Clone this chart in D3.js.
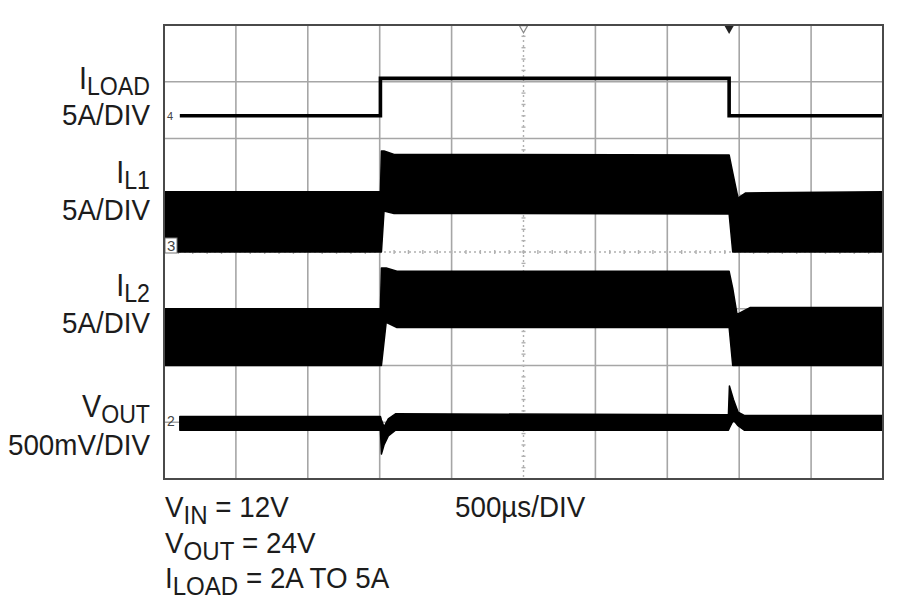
<!DOCTYPE html>
<html>
<head>
<meta charset="utf-8">
<script src="https://cdn.jsdelivr.net/npm/d3@7"></script>
<style>
  body { margin: 0; background: #fff; }
  text { font-family: "Liberation Sans", Arial, sans-serif; fill: #1c1c1c; }
</style>
</head>
<body>
<svg width="900" height="615"></svg>
<script>
// scope time base: 500us/DIV, 10 divisions
var timeDomain = [0, 5000];
var divsX = d3.range(0, 11);
var divsY = d3.range(-4, 5);

// channel scales (units per division) and ground level (in divisions from centre)
var chPerDiv = [5, 5, 5, 500];
var chZeroDiv = [2, 0, -2, -3];

// I_LOAD, amps
var iloadTime = [110, 1505, 1505, 3930, 3930, 5000];
var iloadAmps = [2.0, 2.0, 5.3, 5.3, 2.0, 2.0];

// I_L1 ripple envelope, amps
var il1Time = [0, 1505, 1512, 1530, 1600, 3930, 3955, 3992, 4045, 5000];
var il1Max = [5.3, 5.3, 8.9, 8.9, 8.6, 8.55, 7.0, 4.75, 5.2, 5.3];
var il1Min = [0, 0, 0, 3.6, 3.4, 3.35, 0, 0, 0, 0];

// I_L2 ripple envelope, amps
var il2Time = [0, 1505, 1512, 1545, 1620, 3930, 3955, 3985, 4075, 5000];
var il2Max = [5.0, 5.0, 8.6, 8.6, 8.3, 8.3, 6.8, 4.5, 5.1, 5.1];
var il2Min = [0, 0, 0, 3.8, 3.35, 3.35, 0, 0, 0, 0];

// V_OUT deviation from 24V, mV
var voutTime = [110, 1505, 1512, 1530, 1560, 1610, 3925, 3932, 3960, 3992, 4035, 5000];
var voutMax = [50, 50, 20, -40, 30, 75, 65, 320, 200, 90, 60, 60];
var voutMin = [-70, -70, -280, -200, -120, -70, -70, -50, 20, -30, -70, -70];

// text
var labelMain = ["I", "I", "I", "V"];
var labelSub = ["LOAD", "L1", "L2", "OUT"];
var labelScale = ["5A/DIV", "5A/DIV", "5A/DIV", "500mV/DIV"];
var labelBase = [89, 183, 296, 417];
var labelScaleBase = [125, 220, 333, 455];
var noteMain = ["V", "V", "I"];
var noteSub = ["IN", "OUT", "LOAD"];
var noteRest = [" = 12V", " = 24V", " = 2A TO 5A"];
var timeLabel = "500\u00B5s/DIV";

var svg = d3.select("svg");
var plot = {left: 164, right: 883, top: 25, bottom: 479};
var x = d3.scaleLinear().domain(timeDomain).range([plot.left, plot.right]);
var xDiv = d3.scaleLinear().domain([0, 10]).range([plot.left, plot.right]);
var yDiv = d3.scaleLinear().domain([-4, 4]).range([plot.bottom, plot.top]);
var sx = 0.926;

function chY(i) {
  return function(v) { return yDiv(chZeroDiv[i] + v / chPerDiv[i]); };
}

svg.append("rect").attr("width", 900).attr("height", 615).attr("fill", "#fff");

// graticule
var grid = svg.append("g").attr("stroke", "#a6a6a6").attr("stroke-width", 1.6);
grid.selectAll("line.v").data(divsX.filter(function(d) { return d > 0 && d < 10 && d !== 5; }))
  .enter().append("line")
  .attr("x1", xDiv).attr("x2", xDiv)
  .attr("y1", plot.top).attr("y2", plot.bottom);
grid.selectAll("line.h").data(divsY.filter(function(d) { return d > -4 && d < 4 && d !== 0; }))
  .enter().append("line")
  .attr("y1", yDiv).attr("y2", yDiv)
  .attr("x1", plot.left).attr("x2", plot.right);

// centre lines, dotted with minor ticks
var centre = svg.append("g").attr("stroke", "#b0b0b0");
centre.append("line").attr("x1", xDiv(5)).attr("x2", xDiv(5))
  .attr("y1", plot.top).attr("y2", plot.bottom)
  .attr("stroke-width", 1.4).attr("stroke-dasharray", "2,3");
centre.append("line").attr("y1", yDiv(0)).attr("y2", yDiv(0))
  .attr("x1", plot.left).attr("x2", plot.right)
  .attr("stroke-width", 1.4).attr("stroke-dasharray", "2,3");
centre.selectAll("line.tx").data(d3.range(0.2, 10, 0.2))
  .enter().append("line")
  .attr("x1", xDiv).attr("x2", xDiv)
  .attr("y1", yDiv(0) - 2).attr("y2", yDiv(0) + 2)
  .attr("stroke-width", 1.4);
centre.selectAll("line.ty").data(d3.range(-3.8, 4, 0.2))
  .enter().append("line")
  .attr("y1", yDiv).attr("y2", yDiv)
  .attr("x1", xDiv(5) - 2).attr("x2", xDiv(5) + 2)
  .attr("stroke-width", 1.4);

// traces
svg.append("clipPath").attr("id", "clip").append("rect")
  .attr("x", plot.left).attr("y", plot.top)
  .attr("width", plot.right - plot.left).attr("height", plot.bottom - plot.top);
var traces = svg.append("g").attr("clip-path", "url(#clip)");

function band(times, maxs, mins, ch) {
  var y = chY(ch);
  var area = d3.area()
    .x(function(d, i) { return x(times[i]); })
    .y0(function(d, i) { return y(mins[i]); })
    .y1(function(d, i) { return y(maxs[i]); });
  traces.append("path").datum(times)
    .attr("d", area)
    .attr("fill", "#000").attr("stroke", "#000").attr("stroke-width", 1.5)
    .attr("stroke-linejoin", "round");
}

band(il1Time, il1Max, il1Min, 1);
band(il2Time, il2Max, il2Min, 2);
band(voutTime, voutMax, voutMin, 3);

var yLoad = chY(0);
var loadLine = d3.line()
  .x(function(d, i) { return x(iloadTime[i]); })
  .y(function(d, i) { return yLoad(iloadAmps[i]); });
traces.append("path").datum(iloadTime)
  .attr("d", loadLine)
  .attr("fill", "none").attr("stroke", "#000").attr("stroke-width", 3.6);

// channel markers
svg.append("text").attr("x", plot.left + 3).attr("y", yLoad(iloadAmps[0]) + 4)
  .attr("font-size", 11).style("fill", "#444").text("4");
svg.append("rect").attr("x", plot.left + 1).attr("y", chY(1)(0) - 14)
  .attr("width", 12).attr("height", 15)
  .attr("fill", "#fff").attr("stroke", "#777").attr("stroke-width", 1);
svg.append("text").attr("x", plot.left + 3).attr("y", chY(1)(0) - 1)
  .attr("font-size", 15).style("fill", "#444").text("3");
svg.append("text").attr("x", plot.left + 3).attr("y", chY(3)(0) + 4)
  .attr("font-size", 14).style("fill", "#444").text("2");

// trigger markers on top edge
svg.append("path")
  .attr("d", d3.symbol().type(d3.symbolTriangle).size(30))
  .attr("transform", "translate(" + xDiv(5) + "," + (plot.top + 3) + ") rotate(180)")
  .attr("fill", "#fff").attr("stroke", "#888").attr("stroke-width", 1.2);
svg.append("path")
  .attr("d", d3.symbol().type(d3.symbolTriangle).size(45))
  .attr("transform", "translate(" + x(iloadTime[3]) + "," + (plot.top + 3) + ") rotate(180)")
  .attr("fill", "#222");

// frame
svg.append("rect")
  .attr("x", plot.left).attr("y", plot.top)
  .attr("width", plot.right - plot.left).attr("height", plot.bottom - plot.top)
  .attr("fill", "none").attr("stroke", "#4a4a4a").attr("stroke-width", 2);

// left channel labels
labelMain.forEach(function(m, i) {
  var g = svg.append("g").attr("transform", "translate(150," + labelBase[i] + ") scale(" + sx + ",1)");
  var t = g.append("text").attr("text-anchor", "end").attr("font-size", 31);
  t.append("tspan").text(m);
  t.append("tspan").attr("font-size", 25).attr("dy", 6).text(labelSub[i]);
  svg.append("g").attr("transform", "translate(150," + labelScaleBase[i] + ") scale(" + sx + ",1)")
    .append("text").attr("text-anchor", "end").attr("font-size", 30).text(labelScale[i]);
});

// conditions under the plot
var noteBase = [517, 553, 588];
noteMain.forEach(function(m, i) {
  var t = svg.append("g").attr("transform", "translate(165," + noteBase[i] + ") scale(" + sx + ",1)")
    .append("text").attr("font-size", 30);
  t.append("tspan").text(m);
  t.append("tspan").attr("font-size", 26).attr("dy", 7).text(noteSub[i]);
  t.append("tspan").attr("dy", -7).text(noteRest[i]);
});
svg.append("g").attr("transform", "translate(455,517) scale(" + sx + ",1)")
  .append("text").attr("font-size", 30).text(timeLabel);
</script>
</body>
</html>
